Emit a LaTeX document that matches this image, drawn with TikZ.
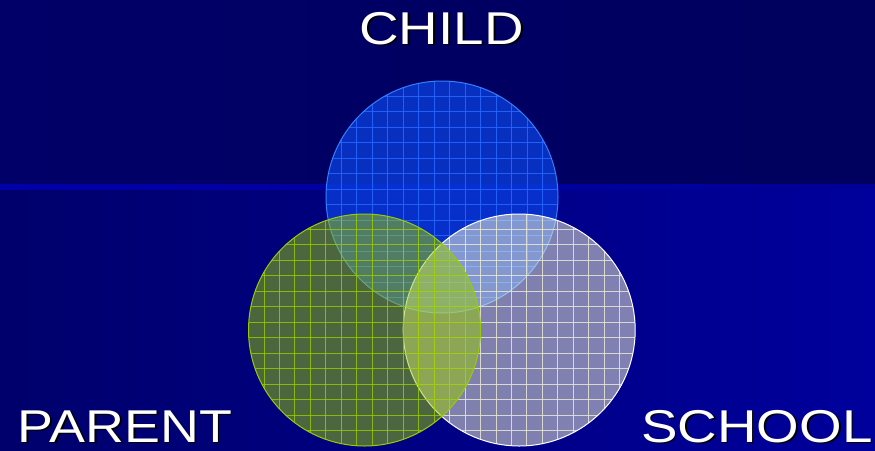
\documentclass[tikz,border=0pt]{standalone}
\usepackage{fontspec}
\setmainfont{Liberation Sans}
\begin{document}
\begin{tikzpicture}[x=1pt,y=-1pt,
  lbl/.style={font=\fontsize{46}{50}\selectfont, inner sep=0pt, anchor=base}]
\useasboundingbox (0,0) rectangle (875,450);
% background
\definecolor{topL}{HTML}{000068}
\definecolor{topR}{HTML}{00005E}
\definecolor{botL}{HTML}{00006C}
\definecolor{botR}{HTML}{00009C}
\definecolor{bandL}{HTML}{0000A8}
\definecolor{bandR}{HTML}{000096}
\shade[left color=topL, right color=topR] (0,0) rectangle (875,185);
\shade[left color=botL, right color=botR] (0,188) rectangle (875,450);
\shade[left color=bandL, right color=bandR] (0,184) rectangle (875,189);
% circle colours
\definecolor{cbfill}{HTML}{0A44E8}
\definecolor{cbgrid}{HTML}{2366FF}
\definecolor{cbline}{HTML}{3380FF}
\definecolor{cgfill}{HTML}{99CC00}
\definecolor{cggrid}{HTML}{99CC00}
\definecolor{cwfill}{HTML}{FFFFD8}
\definecolor{cwgrid}{HTML}{E8E8D4}
\newcommand{\gridcirc}[7]{% x, y, fill, fill opacity, grid, grid opacity, border
  \begin{scope}
    \clip (#1,#2) circle[radius=116pt];
    \fill[#3, fill opacity=#4] (#1,#2) circle[radius=116pt];
    \foreach \k in {1,...,14} {
      \draw[#5, draw opacity=#6, line width=0.9pt] ({#1-116+\k*232/15},{#2-116}) -- ({#1-116+\k*232/15},{#2+116});
      \draw[#5, draw opacity=#6, line width=0.9pt] ({#1-116},{#2-116+\k*232/15}) -- ({#1+116},{#2-116+\k*232/15});
    }
  \end{scope}
  \draw[#7, line width=1pt] (#1,#2) circle[radius=116pt];
}
% CHILD (blue)
\gridcirc{442}{197}{cbfill}{0.7}{cbgrid}{0.9}{cbline}
% SCHOOL (white)
\gridcirc{519.2}{330}{cwfill}{0.5}{cwgrid}{0.85}{white}
% PARENT (green)
\gridcirc{364.5}{330}{cgfill}{0.5}{cggrid}{0.8}{cgfill}
% labels
\node[lbl, black] (childS) at (443.5,45.5) {\scalebox{1.19}[1]{CHILD}};
\node[lbl, white] (child) at (441.5,44) {\scalebox{1.19}[1]{CHILD}};
\node[lbl, black] (parentS) at (126.5,443.5) {\scalebox{1.17}[1]{PARENT}};
\node[lbl, white] (parent) at (125,442) {\scalebox{1.17}[1]{PARENT}};
\node[lbl, black] (schoolS) at (758.5,443.5) {\scalebox{1.19}[1]{SCHOOL}};
\node[lbl, white] (school) at (757,442) {\scalebox{1.19}[1]{SCHOOL}};
\end{tikzpicture}
\end{document}
